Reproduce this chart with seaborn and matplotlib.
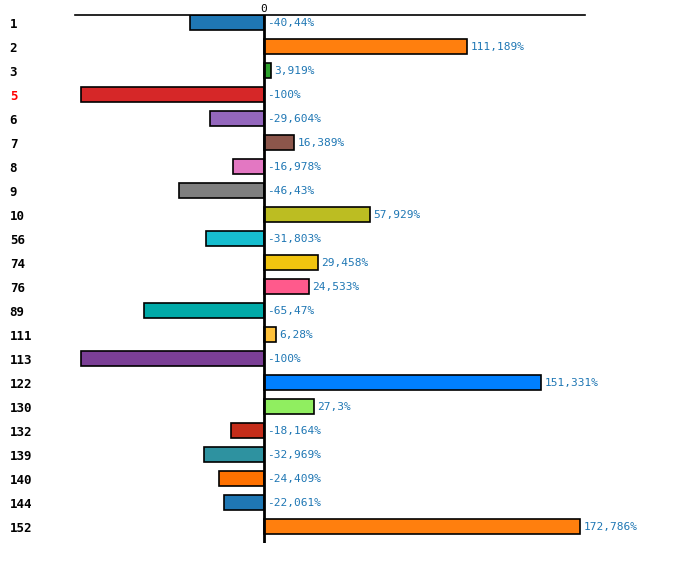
import pandas as pd
import seaborn as sns
import matplotlib
matplotlib.use("Agg")
import matplotlib.pyplot as plt

# 数据
categories = ['1', '2', '3', '5', '6', '7', '8', '9', '10', '56', '74',
              '76', '89', '111', '113', '122', '130', '132', '139', '140',
              '144', '152']
values = [-40.44, 111.189, 3.919, -100, -29.604, 16.389, -16.978, -46.43,
          57.929, -31.803, 29.458, 24.533, -65.47, 6.28, -100, 151.331,
          27.3, -18.164, -32.969, -24.409, -22.061, 172.786]
labels = ['-40,44%', '111,189%', '3,919%', '-100%', '-29,604%', '16,389%',
          '-16,978%', '-46,43%', '57,929%', '-31,803%', '29,458%', '24,533%',
          '-65,47%', '6,28%', '-100%', '151,331%', '27,3%', '-18,164%',
          '-32,969%', '-24,409%', '-22,061%', '172,786%']
colors = ['#1f77b4', '#ff7f0e', '#2ca02c', '#d62728', '#9467bd', '#8c564b',
          '#e377c2', '#7f7f7f', '#bcbd22', '#17becf', '#f1c40f', '#ff5a8c',
          '#00aaa8', '#ffc13b', '#7b3f96', '#0080ff', '#90ee60', '#c52d1a',
          '#2e92a0', '#ff7100', '#1f77b4', '#ff7f0e']

df = pd.DataFrame({'cat': categories, 'val': values})

sns.set_style("white")
plt.rcParams['font.family'] = ['DejaVu Sans Mono', 'DejaVu Sans']

fig = plt.figure(figsize=(7, 5.73), dpi=100)
ax = fig.add_axes([75 / 700, 1 - 543 / 573, 510 / 700, 528 / 573])

sns.barplot(data=df, x='val', y='cat', hue='cat', palette=colors,
            order=categories, hue_order=categories, orient='h', width=0.62,
            saturation=1, edgecolor='black', linewidth=1.2, legend=False,
            ax=ax)

ax.set_xlim(-103.3, 175.4)
ax.set_ylim(21.67, -0.33)

# 数值标签
for i, (v, t) in enumerate(zip(values, labels)):
    x0 = max(v, 0)
    ax.annotate(t, (x0, i), xytext=(2.5, 0), textcoords='offset points',
                va='center', ha='left', fontsize=8, color='#1f77b4')

# 零线和顶部轴线
ax.axvline(0, color='black', linewidth=2, zorder=5)
for s in ['right', 'bottom', 'left']:
    ax.spines[s].set_visible(False)
ax.spines['top'].set_color('black')
ax.spines['top'].set_linewidth(1.2)

ax.xaxis.tick_top()
ax.set_xticks([0])
ax.set_xticklabels(['0'], fontsize=8, color='black')
ax.tick_params(axis='x', length=0, pad=1)
ax.set_xlabel('')
ax.set_ylabel('')

ax.tick_params(axis='y', length=0, pad=47)
for lab in ax.get_yticklabels():
    lab.set_horizontalalignment('left')
    lab.set_fontweight('bold')
    lab.set_fontsize(9)
    lab.set_color('red' if lab.get_text() == '5' else 'black')

fig.savefig('out.png', dpi=100)
